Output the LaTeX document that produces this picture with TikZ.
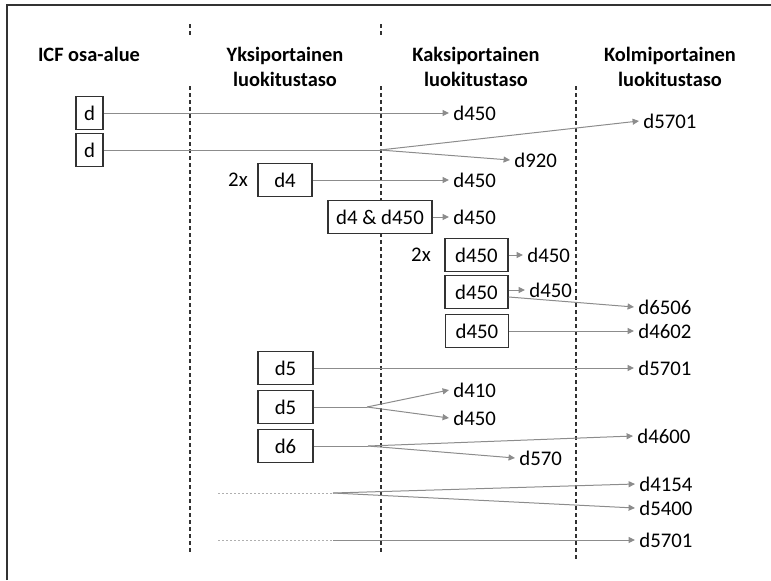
\documentclass[tikz,border=0pt]{standalone}
\usepackage{fontspec}
\setmainfont{Carlito}
\usetikzlibrary{arrows.meta}
\definecolor{boxline}{RGB}{50,50,50}
\definecolor{linegray}{RGB}{140,140,140}

\begin{document}
\begin{tikzpicture}[x = 0.5pt, y = -0.5pt, font = \fontsize{10.4}{12.5}\selectfont]
    \tikzstyle{box} = [draw = boxline, fill = white, line width = .75pt, minimum height = 16.5pt, inner sep = 0pt];
    \tikzstyle{code} = [anchor = west, inner xsep = 2pt, inner ysep = 0pt];
    \tikzstyle{head} = [font = \bfseries\fontsize{10.2}{12.5}\selectfont, align = center, anchor = north, inner sep = 0pt];
    \tikzstyle{link} = [draw = linegray, line width = .5pt, -{Triangle[length = 3.2pt, width = 3pt]}];
    \tikzstyle{plain} = [draw = linegray, line width = .5pt];
    \tikzstyle{dotline} = [draw = linegray!70, line width = .5pt, dash pattern = on 1pt off 1pt];
    \tikzstyle{level} = [draw = boxline, line width = .7pt, dash pattern = on 2pt off 1.5pt];
    \useasboundingbox (0,0) rectangle (771,580);
    % frame and columns:
    \draw[boxline, line width = 1pt] (7,580) -- (7,5) -- (771,5);
    \draw[level] (190,24) -- (190,36); \draw[level] (190,86) -- (190,555);
    \draw[level] (381,24) -- (381,36); \draw[level] (381,86) -- (381,555);
    \draw[level] (576,86) -- (576,560);
    \node[head] (h0) at (89,47) {ICF osa-alue};
    \node[head] (h1) at (285,47) {Yksiportainen\\luokitustaso};
    \node[head] (h2) at (476,47) {Kaksiportainen\\luokitustaso};
    \node[head] (h3) at (670,47) {Kolmiportainen\\luokitustaso};
    % boxes:
    \node[box, minimum width = 13.5pt] (b1) at (89.5,113){d};
    \node[box, minimum width = 13.5pt] (b2) at (89.5,150){d};
    \node[box, minimum width = 27pt] (b3) at (285,180){d4};
    \node (x1) at (238,180){2x};
    \node[box, minimum width = 52pt] (b4) at (380,217){d4 \& d450};
    \node[box, minimum width = 31.5pt] (b5) at (476.5,255){d450};
    \node (x2) at (421,255){2x};
    \node[box, minimum width = 31.5pt] (b6) at (476.5,292){d450};
    \node[box, minimum width = 31.5pt] (b7) at (477,331){d450};
    \node[box, minimum width = 27.5pt] (b8) at (285.5,368){d5};
    \node[box, minimum width = 27.5pt] (b9) at (285.5,407){d5};
    \node[box, minimum width = 27.5pt] (b10) at (285.5,446){d6};
    % codes:
    \node[code] (l1) at (449,113){d450};
    \node[code] (l2) at (639,121){d5701};
    \node[code] (l3) at (510,160){d920};
    \node[code] (l4) at (449,180){d450};
    \node[code] (l5) at (449,217){d450};
    \node[code] (l6) at (523,255){d450};
    \node[code] (l7) at (525,290){d450};
    \node[code] (l8) at (634,307){d6506};
    \node[code] (l9) at (634,331){d4602};
    \node[code] (l10) at (634,368){d5701};
    \node[code] (l11) at (449,390){d410};
    \node[code] (l12) at (449,418){d450};
    \node[code] (l13) at (633,436){d4600};
    \node[code] (l14) at (515,458){d570};
    \node[code] (l15) at (635,484){d4154};
    \node[code] (l16) at (635,508){d5400};
    \node[code] (l17) at (635,540){d5701};
    % branch points:
    \coordinate (c1) at (380,150);
    \coordinate (c2) at (367,407);
    \coordinate (c3) at (368,446);
    \coordinate (p1) at (218,493); \coordinate (c4) at (333,493);
    \coordinate (p2) at (218,540); \coordinate (c5) at (333,540);
    % lines:
    \draw[link] (b1) -- (l1);
    \draw[plain] (b2) -- (c1); \draw[link] (c1) -- (l2.west); \draw[link] (c1) -- (l3.west);
    \draw[link] (b3) -- (l4);
    \draw[link] (b4) -- (l5);
    \draw[link] (b5) -- (l6);
    \draw[link] (b6.east |- l7) -- (l7);
    \draw[link] ([yshift = -2.5pt]b6.east) -- (l8.west);
    \draw[link] (b7) -- (l9);
    \draw[link] (b8) -- (l10);
    \draw[plain] (b9) -- (c2); \draw[link] (c2) -- (l11.west); \draw[link] (c2) -- (l12.west);
    \draw[plain] (b10) -- (c3); \draw[link] (c3) -- (l13.west); \draw[link] (c3) -- (l14.west);
    \draw[dotline] (p1) -- (c4); \draw[link] (c4) -- (l15.west); \draw[link] (c4) -- (l16.west);
    \draw[dotline] (p2) -- (c5); \draw[link] (c5) -- (l17);
  \end{tikzpicture}
\end{document}
